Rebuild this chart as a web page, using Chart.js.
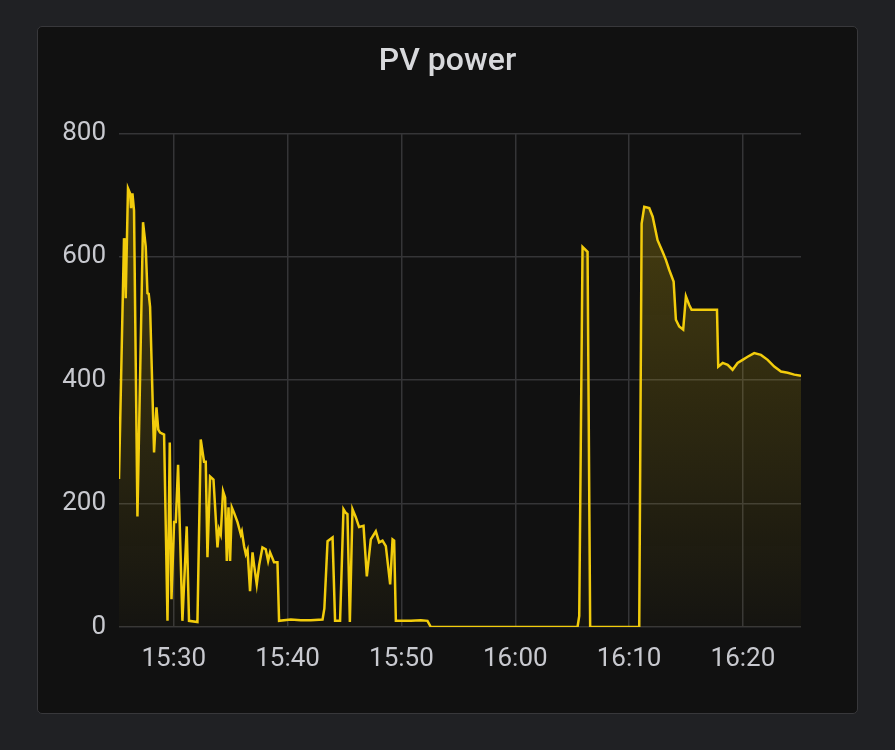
<!DOCTYPE html>
<html>
<head>
<meta charset="utf-8">
<script src="https://cdn.jsdelivr.net/npm/chart.js@4/dist/chart.umd.min.js"></script>
<style>
    html, body { margin: 0; padding: 0; background: #202124; }
    body { width: 895px; height: 750px; position: relative; overflow: hidden; }
    .panel {
        position: absolute; left: 37px; top: 26px; width: 819px; height: 686px;
        background: #111111; border: 1px solid #38383b; border-radius: 5px;
    }
    #chart { position: absolute; left: 0; top: 0; }
</style>
</head>
<body>
<div class="panel">
    <canvas id="chart" width="819" height="686"></canvas>
</div>
<script>
// Sample times, in minutes past 15:00
const times = [
    25.19, 25.63, 25.70, 25.78, 25.98, 26.16, 26.25, 26.37, 26.51, 26.81,
    27.30, 27.54, 27.69, 27.80, 27.92, 28.27, 28.48, 28.64, 28.80, 29.15,
    29.45, 29.65, 29.80, 30.03, 30.18, 30.38, 30.76, 31.14, 31.34, 32.08,
    32.37, 32.66, 32.81, 32.96, 33.19, 33.49, 33.84, 33.98, 34.13, 34.33,
    34.51, 34.66, 34.81, 34.95, 35.10, 35.30, 35.60, 35.89, 35.98, 36.18,
    36.33, 36.48, 36.70, 36.92, 37.06, 37.29, 37.50, 37.79, 38.08, 38.29,
    38.46, 38.81, 39.11, 39.25, 40.28, 41.16, 42.04, 43.07, 43.23, 43.51,
    43.95, 44.17, 44.61, 44.91, 45.11, 45.26, 45.47, 45.70, 45.99, 46.28,
    46.67, 46.96, 47.31, 47.75, 48.04, 48.34, 48.63, 49.01, 49.22, 49.36,
    49.51, 50.83, 51.71, 52.29, 52.58, 65.47, 65.62, 65.91, 66.35, 66.58,
    70.89, 71.10, 71.33, 71.77, 72.07, 72.50, 72.94, 73.23, 73.52, 73.91,
    74.11, 74.40, 74.75, 74.99, 75.28, 75.49, 77.72, 77.83, 78.22, 78.66,
    79.09, 79.53, 79.97, 80.41, 80.99, 81.58, 82.17, 82.75, 83.34, 83.93,
    84.51, 85.10
];

// PV power in watts
const power = [
    240, 630, 622, 533, 711, 703, 679, 703, 675, 179,
    656, 616, 541, 540, 519, 283, 356, 320, 315, 312,
    10, 299, 45, 170, 170, 263, 10, 163, 10, 8,
    304, 268, 268, 113, 244, 239, 129, 158, 150, 220,
    210, 107, 194, 107, 194, 185, 170, 150, 155, 131,
    118, 125, 58, 121, 100, 69, 100, 129, 126, 107,
    121, 105, 105, 10, 12, 11, 11, 12, 30, 139,
    145, 10, 10, 191, 185, 183, 8, 191, 178, 162,
    164, 82, 142, 155, 137, 140, 131, 69, 142, 140,
    10, 10, 11, 10, 0, 0, 18, 616, 608, 0,
    0, 654, 681, 679, 665, 627, 608, 595, 579, 560,
    498, 487, 482, 536, 522, 514, 514, 422, 428, 425,
    417, 428, 433, 438, 444, 441, 433, 422, 414, 412,
    409, 407
];

const yTicks = [0, 200, 400, 600, 800];
// 15:30 ... 16:20
const xTicks = [30, 40, 50, 60, 70, 80];
const xStart = 25.19;
const xEnd = 85.10;

const COLORS = {
    line: '#f2cc0c',
    grid: '#353537',
    tick: '#c8c9cf',
    title: '#d8d9dc',
};

function clockLabel(v) {
    const h = 15 + Math.floor(v / 60);
    const m = Math.round(v % 60);
    return h + ':' + String(m).padStart(2, '0');
}

function areaFill(context) {
    const area = context.chart.chartArea;
    if (!area) return 'rgba(242, 204, 12, 0.2)';
    const g = context.chart.ctx.createLinearGradient(0, area.top, 0, area.bottom);
    g.addColorStop(0, 'rgba(242, 204, 12, 0.27)');
    g.addColorStop(1, 'rgba(242, 204, 12, 0.02)');
    return g;
}

const ctx = document.getElementById('chart').getContext('2d');
new Chart(ctx, {
    type: 'line',
    data: {
        datasets: [{
            label: 'PV power',
            data: times.map((t, i) => ({ x: t, y: power[i] })),
            borderColor: COLORS.line,
            borderWidth: 2.5,
            backgroundColor: areaFill,
            fill: 'origin',
            pointRadius: 0,
            tension: 0,
        }]
    },
    options: {
        responsive: false,
        animation: false,
        layout: { padding: 0 },
        plugins: {
            legend: { display: false },
            tooltip: { enabled: false },
            title: {
                display: true,
                text: 'PV power',
                color: COLORS.title,
                font: { family: 'Roboto', size: 32, weight: '500' },
                padding: { top: 16, bottom: 52 },
            }
        },
        scales: {
            x: {
                type: 'linear',
                min: xStart,
                max: xEnd,
                border: { display: false },
                grid: { color: COLORS.grid, drawTicks: false, lineWidth: 1.5 },
                afterBuildTicks: (scale) => { scale.ticks = xTicks.map(v => ({ value: v })); },
                ticks: {
                    maxRotation: 0,
                    autoSkip: false,
                    padding: 17,
                    color: COLORS.tick,
                    font: { family: 'Roboto', size: 26 },
                    callback: (v) => clockLabel(v),
                },
                afterFit: (scale) => { scale.height = 86; },
            },
            y: {
                min: 0,
                max: 800,
                border: { display: false },
                grid: { color: COLORS.grid, drawTicks: false, lineWidth: 1.5 },
                afterBuildTicks: (scale) => { scale.ticks = yTicks.map(v => ({ value: v })); },
                ticks: {
                    padding: 13,
                    color: COLORS.tick,
                    font: { family: 'Roboto', size: 26 },
                },
                afterFit: (scale) => { scale.width = 81; },
            },
            // empty right-hand axis, only reserves the right margin so the title stays centred
            yRight: {
                position: 'right',
                display: true,
                border: { display: false },
                grid: { display: false },
                ticks: { display: false },
                afterFit: (scale) => { scale.width = 56; },
            }
        }
    }
});
</script>
</body>
</html>
